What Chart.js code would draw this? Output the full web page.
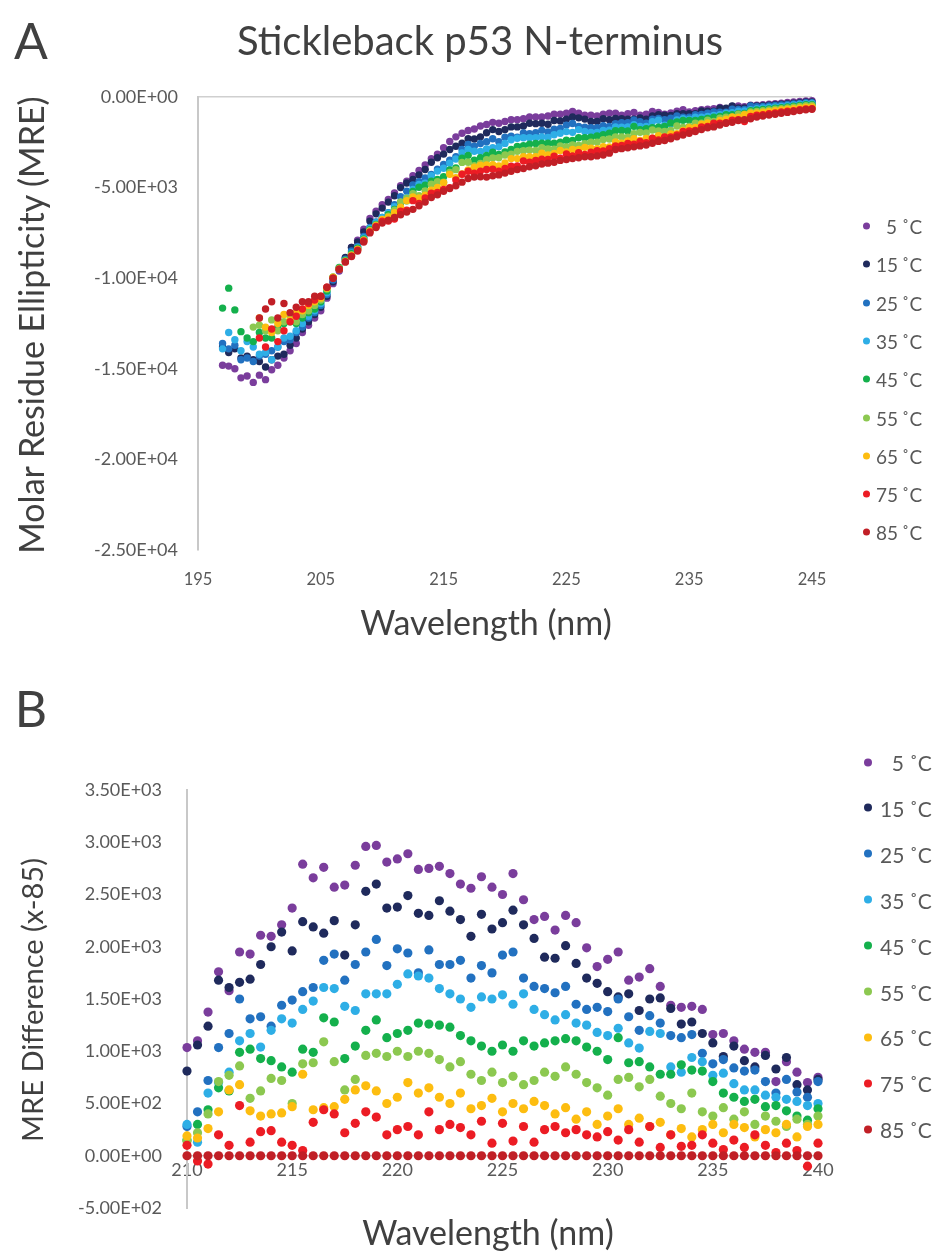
<!DOCTYPE html>
<html>
<head>
<meta charset="utf-8">
<script src="https://cdn.jsdelivr.net/npm/chart.js@4.4.0/dist/chart.umd.min.js"></script>
<style>
  body { margin: 0; background: #fff; }
  #page { position: relative; width: 936px; height: 1251px; font-family: Lato, "Open Sans", sans-serif; color: #404040; overflow: hidden; }
  canvas { position: absolute; left: 0; }
  .t { position: absolute; white-space: nowrap; line-height: 1; transform: translate(-50%, -50%); }
  .leg { position: absolute; display: flex; align-items: center; color: #595959; white-space: nowrap; line-height: 1; transform: translateY(-50%); }
  .dot { display: inline-block; border-radius: 50%; }
  .num { display: inline-block; text-align: right; }
</style>
</head>
<body>
<div id="page">
  <canvas id="chartA" width="936" height="650" style="top:0"></canvas>
  <canvas id="chartB" width="936" height="601" style="top:650px"></canvas>
  <div class="t" style="left:31px;top:40px;font-size:50px">A</div>
  <div class="t" style="left:480px;top:40px;font-size:40px">Stickleback p53 N-terminus</div>
  <div class="t" style="left:31px;top:325px;font-size:34px;transform:translate(-50%,-50%) rotate(-90deg)">Molar Residue Ellipticity (MRE)</div>
  <div class="t" style="left:486px;top:622px;font-size:34px">Wavelength (nm)</div>
  <div class="t" style="left:31px;top:708px;font-size:50px">B</div>
  <div class="t" style="left:31px;top:1000px;font-size:29px;transform:translate(-50%,-50%) rotate(-90deg)">MRE Difference (x-85)</div>
  <div class="t" style="left:488px;top:1232px;font-size:34px">Wavelength (nm)</div>
  <div id="legendA"></div>
  <div id="legendB"></div>
</div>
<script>
// temperatures and colours
const temps = [5, 15, 25, 35, 45, 55, 65, 75, 85]
const colors = ["#7a3d9c", "#1f2a5c", "#2271c0", "#2eaee6", "#14b04c", "#8cc850", "#fdbd10", "#ec1c24", "#c11f26"]

// tick values
const xTicksA = [195, 205, 215, 225, 235, 245]
const yTicksA = [0, -5000, -10000, -15000, -20000, -25000]
const xTicksB = [210, 215, 220, 225, 230, 235, 240]
const yTicksB = [3500, 3000, 2500, 2000, 1500, 1000, 500, 0, -500]

// panel A: wavelength (nm)
const wavelengthA = [197,197.5,198,198.5,199,199.5,200,200.5,201,201.5,202,202.5,203,203.5,204,204.5,205,205.5,206,206.5,207,207.5,208,
  208.5,209,209.5,210,210.5,211,211.5,212,212.5,213,213.5,214,214.5,215,215.5,216,216.5,217,217.5,218,218.5,219,219.5,220,
  220.5,221,221.5,222,222.5,223,223.5,224,224.5,225,225.5,226,226.5,227,227.5,228,228.5,229,229.5,230,230.5,231,231.5,232,
  232.5,233,233.5,234,234.5,235,235.5,236,236.5,237,237.5,238,238.5,239,239.5,240,240.5,241,241.5,242,242.5,243,243.5,244,244.5,245]

// panel A: molar residue ellipticity per temperature
const mre5 = [-14800,-14850,-15000,-15500,-15400,-15750,-15350,-15600,-15050,-14800,-14400,-14000,-13600,-13000,-12600,-12200,-11800,-11100,-10300,-9600,-8900,-8300,-7900,
  -7300,-6700,-6300,-5950,-5650,-5300,-4900,-4650,-4350,-4050,-3750,-3400,-3150,-2800,-2450,-2200,-2000,-1850,-1770,-1600,-1520,-1400,-1450,-1350,
  -1250,-1250,-1200,-1100,-1100,-1100,-1050,-950,-950,-900,-800,-900,-1000,-1000,-1050,-950,-900,-900,-1000,-920,-850,-1000,-950,-800,
  -850,-950,-880,-780,-700,-820,-750,-700,-680,-650,-570,-670,-520,-500,-530,-450,-450,-430,-400,-370,-340,-300,-280,-250,-220,-210]
const mre15 = [-13800,-14100,-13900,-14400,-14300,-14500,-14600,-14900,-14500,-14300,-14200,-13700,-13300,-12800,-12400,-12000,-11600,-11000,-10200,-9500,-8850,-8300,-8000,
  -7450,-6850,-6450,-6130,-5800,-5450,-5000,-4750,-4550,-4300,-4000,-3600,-3350,-3150,-2900,-2720,-2550,-2300,-2320,-2200,-1970,-1800,-1900,-1800,
  -1650,-1650,-1600,-1450,-1470,-1450,-1500,-1300,-1320,-1220,-1100,-1150,-1220,-1350,-1350,-1200,-1250,-1180,-1200,-1220,-1220,-1160,-1230,-1050,
  -970,-1000,-1020,-920,-920,-920,-920,-770,-780,-780,-620,-620,-500,-600,-600,-480,-500,-480,-450,-430,-400,-370,-340,-310,-280,-280]
const mre25 = [-13600,-13900,-13700,-14500,-14400,-14600,-14300,-14200,-14000,-13800,-13500,-13400,-13000,-12700,-12200,-11900,-11500,-10900,-10100,-9500,-8950,-8500,-8250,
  -7700,-7200,-6900,-6650,-6380,-5950,-5500,-5200,-4850,-4680,-4470,-4280,-3980,-3720,-3490,-3290,-2900,-2620,-2720,-2570,-2470,-2300,-2470,-2220,
  -2160,-2220,-1990,-2020,-1970,-1840,-1930,-1780,-1740,-1550,-1460,-1630,-1660,-1700,-1690,-1580,-1620,-1480,-1420,-1420,-1270,-1370,-1450,-1220,
  -1180,-1250,-1170,-1040,-1120,-1120,-980,-960,-890,-830,-840,-840,-680,-690,-690,-500,-540,-520,-500,-470,-440,-410,-380,-350,-320,-320]
const mre35 = [-13900,-13000,-13400,-14000,-13500,-13800,-14200,-14100,-14500,-13800,-13300,-13200,-12900,-12500,-12100,-11800,-11400,-10800,-10000,-9450,-9000,-8600,-8300,
  -7780,-7250,-6930,-6650,-6400,-6050,-5800,-5550,-5100,-4830,-4760,-4350,-4090,-3930,-3650,-3420,-3090,-2900,-2990,-3010,-2870,-2800,-2750,-2560,
  -2360,-2280,-2250,-2250,-2250,-2200,-2230,-2080,-2000,-1910,-1950,-1800,-1900,-1950,-1950,-1850,-1830,-1650,-1670,-1650,-1530,-1620,-1620,-1360,
  -1280,-1550,-1500,-1260,-1200,-1230,-1110,-1110,-1070,-1020,-970,-890,-860,-780,-770,-700,-640,-610,-580,-550,-520,-480,-440,-400,-370,-360]
const mre45 = [-11650,-10550,-11750,-12950,-13300,-13500,-13000,-13300,-13300,-12700,-12500,-12400,-12500,-12200,-11900,-11700,-11300,-10700,-9950,-9400,-9000,-8650,-8350,
  -7830,-7320,-7040,-6800,-6500,-6210,-5850,-5730,-5210,-4980,-4870,-4640,-4550,-4400,-4030,-3910,-3380,-3220,-3490,-3350,-3220,-3050,-3170,-3030,
  -2900,-2730,-2690,-2600,-2570,-2550,-2550,-2550,-2500,-2390,-2400,-2250,-2250,-2220,-2150,-2080,-2000,-1860,-1850,-1880,-1620,-1810,-1750,-1700,
  -1670,-1620,-1430,-1380,-1290,-1290,-1300,-1240,-1180,-1110,-1080,-970,-970,-920,-910,-750,-720,-690,-660,-620,-590,-550,-510,-470,-430,-420]
const mre55 = [null,null,null,null,null,-12700,-12600,-12900,-12300,-12900,-12400,-12100,-12400,-12000,-11800,-11500,-11200,-10600,-9950,-9450,-9050,-8700,-8400,
  -7880,-7370,-7060,-6810,-6580,-6250,-5790,-5580,-5340,-5450,-5180,-4810,-4680,-4700,-4170,-4010,-3610,-3600,-3790,-3670,-3460,-3370,-3350,-3200,
  -3150,-3000,-2970,-2930,-2950,-2800,-2870,-2880,-2700,-2750,-2640,-2670,-2580,-2500,-2490,-2350,-2320,-2200,-2200,-2220,-2020,-1950,-1990,-1820,
  -1880,-1900,-1850,-1600,-1680,-1620,-1440,-1450,-1280,-1350,-1170,-1120,-1120,-950,-950,-820,-800,-760,-720,-680,-640,-600,-560,-520,-480,-470]
const mre65 = [null,null,null,null,null,null,-12200,-12700,-13000,-12500,-12000,-12300,-11900,-11800,-11500,-11300,-11100,-10550,-9950,-9500,-9080,-8750,-8420,
  -7920,-7410,-7100,-6760,-6630,-6390,-6080,-5720,-5520,-5570,-5420,-5150,-4990,-4730,-4270,-4460,-4240,-4030,-3880,-3770,-3750,-3730,-3800,-3640,
  -3400,-3400,-3300,-3290,-3300,-3100,-3200,-3120,-2950,-3030,-2900,-2900,-2780,-2820,-2850,-2740,-2750,-2480,-2550,-2420,-2300,-2400,-2290,-2270,
  -2130,-2200,-2040,-2020,-1850,-1700,-1680,-1500,-1430,-1470,-1300,-1230,-1100,-1120,-970,-900,-880,-840,-800,-760,-720,-680,-640,-600,-560,-550]
const mre75 = [null,null,null,null,null,null,-13300,-13800,-12800,-13500,-12900,-12400,-12100,-11700,-11400,-11200,-11000,-10500,-10000,-9500,-9100,-8780,-8450,
  -7950,-7450,-7140,-6850,-6850,-6730,-6300,-6250,-5720,-5870,-5570,-5310,-5270,-5100,-5000,-4580,-4260,-4100,-4200,-4090,-4000,-3980,-4100,-3950,
  -3820,-3800,-3530,-3600,-3500,-3430,-3450,-3270,-3380,-3140,-3260,-3070,-3170,-3050,-2970,-2980,-2850,-2700,-2670,-2570,-2600,-2450,-2520,-2270,
  -2370,-2200,-2210,-2100,-1900,-1880,-1840,-1650,-1620,-1450,-1450,-1420,-1280,-1250,-1350,-1080,-1010,-970,-920,-880,-830,-790,-750,-700,-660,-640]
const mre85 = [null,null,null,null,null,null,-12200,-11700,-11300,-12200,-11400,-11900,-11600,-11300,-11300,-11000,-11000,-10500,-10000,-9500,-9100,-8800,-8500,
  -8000,-7500,-7200,-6950,-6800,-6650,-6500,-6350,-6200,-6000,-5800,-5550,-5400,-5200,-5050,-4900,-4700,-4500,-4420,-4400,-4420,-4350,-4300,-4200,
  -4100,-4000,-3950,-3850,-3800,-3700,-3650,-3600,-3500,-3450,-3400,-3350,-3300,-3300,-3250,-3200,-3100,-2900,-2850,-2800,-2750,-2700,-2650,-2550,
  -2450,-2400,-2300,-2200,-2100,-2000,-1900,-1800,-1700,-1650,-1550,-1450,-1400,-1300,-1250,-1200,-1100,-1050,-1000,-950,-900,-850,-800,-750,-700,-680]

// panel B: wavelength (nm)
const wavelengthB = [210,210.5,211,211.5,212,212.5,213,213.5,214,214.5,215,215.5,216,216.5,217,217.5,218,218.5,219,219.5,220,
  220.5,221,221.5,222,222.5,223,223.5,224,224.5,225,225.5,226,226.5,227,227.5,228,228.5,229,229.5,230,
  230.5,231,231.5,232,232.5,233,233.5,234,234.5,235,235.5,236,236.5,237,237.5,238,238.5,239,239.5,240]

// panel B: MRE difference from 85 C
const diff5 = [1035,1100,1375,1760,1580,1950,1930,2110,2100,2210,2370,2790,2660,2760,2570,2590,2780,2960,2970,2810,2840,
  2890,2740,2750,2770,2700,2600,2560,2670,2570,2500,2700,2450,2260,2290,2160,2300,2230,1990,1810,1880,
  1950,1680,1710,1790,1620,1440,1420,1430,1400,1160,1170,1100,1020,990,990,710,900,800,700,750]
const diff15 = [810,1060,1240,1680,1610,1660,1690,1830,2000,2140,1960,2240,2190,2130,2250,1920,2210,2530,2600,2370,2380,
  2490,2320,2300,2440,2340,2260,2100,2310,2170,2230,2350,2210,2080,1900,1890,2010,1840,1700,1650,1570,
  1520,1550,1390,1500,1510,1410,1260,1280,1170,1080,950,1050,910,850,960,830,940,680,630,730]
const diff25 = [280,420,720,1035,1170,1500,1310,1330,1240,1440,1490,1570,1610,1870,1930,1680,1830,1950,2070,1820,1980,
  1940,1750,1970,1830,1830,1870,1700,1820,1750,1920,1950,1700,1620,1600,1560,1620,1450,1400,1420,1380,
  1500,1330,1200,1340,1270,1150,1130,1160,980,880,920,840,810,820,710,600,730,610,560,710]
const diff35 = [300,130,600,700,800,1100,1170,1040,1200,1310,1270,1400,1480,1610,1600,1430,1390,1550,1550,1550,1640,
  1740,1720,1700,1600,1550,1500,1420,1520,1500,1540,1450,1550,1400,1350,1300,1350,1270,1250,1180,1150,
  1220,1080,1030,1190,1170,850,800,940,900,770,790,690,630,630,580,560,540,520,480,500]
const diff45 = [150,300,440,650,620,990,1020,930,910,850,800,1020,990,1320,1280,930,1050,1200,1300,1130,1170,
  1200,1270,1260,1250,1230,1150,1100,1050,1000,1060,1000,1100,1050,1080,1100,1120,1100,1040,1000,920,
  1130,890,900,850,780,780,870,820,810,710,600,560,520,540,470,480,430,380,340,450]
const diff55 = [140,220,400,710,770,860,550,620,740,720,500,880,890,1090,900,630,730,960,980,950,1000,
  950,1000,980,920,850,900,780,720,800,700,760,680,720,800,760,850,780,700,650,580,
  730,750,660,730,570,500,450,600,420,380,460,350,420,300,380,330,280,350,300,380]
const diff65 = [190,170,260,420,630,680,430,380,400,410,470,780,440,460,470,540,630,670,620,500,560,
  700,600,650,560,500,600,450,480,550,420,500,450,520,480,400,460,350,420,300,380,
  450,300,360,280,320,200,260,180,250,300,220,300,270,180,250,220,300,180,280,300]
const diff75 = [100,-50,-80,200,100,480,130,230,240,130,100,50,320,440,400,220,310,420,370,200,250,
  280,200,420,250,300,270,200,330,120,310,140,280,130,250,280,220,250,200,180,230,
  150,250,130,280,80,200,90,100,200,120,60,150,80,200,100,30,120,50,-100,120]
const diff85 = [0,0,0,0,0,0,0,0,0,0,0,0,0,0,0,0,0,0,0,0,0,
  0,0,0,0,0,0,0,0,0,0,0,0,0,0,0,0,0,0,0,0,
  0,0,0,0,0,0,0,0,0,0,0,0,0,0,0,0,0,0,0,0]

const seriesA = [mre5, mre15, mre25, mre35, mre45, mre55, mre65, mre75, mre85]
const seriesB = [diff5, diff15, diff25, diff35, diff45, diff55, diff65, diff75, diff85]

const sci = (v) => {
  const [m, e] = Number(v).toExponential(2).split("e")
  const n = parseInt(e, 10)
  return m + "E" + (n < 0 ? "-" : "+") + String(Math.abs(n)).padStart(2, "0")
}

const toPoints = (xs, ys) => xs.map((x, i) => ({ x: x, y: ys[i] })).filter(p => p.y !== null)

const buildDatasets = (xs, series, radius) => series.map((ys, i) => ({
  label: temps[i] + " ˚C",
  data: toPoints(xs, ys),
  showLine: false,
  pointRadius: radius,
  pointHoverRadius: radius,
  pointBorderWidth: 0,
  pointBackgroundColor: colors[i],
  backgroundColor: colors[i],
  borderColor: colors[i],
  clip: false,
  order: -i
}))

const tickFont = (size) => ({ family: "Lato", size: size })

new Chart(document.getElementById("chartA"), {
  type: "scatter",
  data: { datasets: buildDatasets(wavelengthA, seriesA, 3.7) },
  options: {
    responsive: false,
    animation: false,
    devicePixelRatio: 1,
    layout: { padding: { top: 97, right: 124, left: 0, bottom: 0 } },
    plugins: { legend: { display: false }, tooltip: { enabled: false } },
    scales: {
      x: {
        type: "linear", min: 195, max: 245,
        afterBuildTicks: (s) => { s.ticks = xTicksA.map(v => ({ value: v })) },
        afterFit: (s) => { s.height = 100 },
        grid: { display: false, drawTicks: false },
        border: { display: false },
        ticks: { padding: 20, color: "#595959", font: tickFont(16.5), maxRotation: 0, autoSkip: false }
      },
      y: {
        min: -25000, max: 0,
        afterBuildTicks: (s) => { s.ticks = yTicksA.map(v => ({ value: v })) },
        afterFit: (s) => { s.width = 198 },
        grid: { drawTicks: false, lineWidth: 1.5, color: (c) => c.tick && c.tick.value === 0 ? "#cfcfcf" : "rgba(0,0,0,0)" },
        border: { color: "#c8c8c8", width: 2 },
        ticks: { padding: 20, color: "#595959", font: tickFont(18), callback: (v) => sci(v) }
      }
    }
  }
})

new Chart(document.getElementById("chartB"), {
  type: "scatter",
  data: { datasets: buildDatasets(wavelengthB, seriesB, 4.6) },
  options: {
    responsive: false,
    animation: false,
    devicePixelRatio: 1,
    layout: { padding: { top: 140, right: 118, left: 0, bottom: 43 } },
    plugins: { legend: { display: false }, tooltip: { enabled: false } },
    scales: {
      x: {
        type: "linear", min: 210, max: 240, position: { y: 0 },
        afterBuildTicks: (s) => { s.ticks = xTicksB.map(v => ({ value: v })) },
        grid: { display: false, drawTicks: false },
        border: { color: "#c8c8c8", width: 1.5 },
        ticks: { padding: 4, color: "#595959", font: tickFont(18), maxRotation: 0, autoSkip: false }
      },
      y: {
        min: -500, max: 3500,
        afterBuildTicks: (s) => { s.ticks = yTicksB.map(v => ({ value: v })) },
        afterFit: (s) => { s.width = 187 },
        grid: { display: false, drawTicks: false },
        border: { color: "#c8c8c8", width: 2 },
        ticks: { padding: 25, color: "#595959", font: tickFont(18), callback: (v) => sci(v) }
      }
    }
  }
})

// legends on the right
const buildLegend = (id, top, step, dotX, textX, dotSize, fontSize, numWidth) => {
  const box = document.getElementById(id)
  temps.forEach((t, i) => {
    const row = document.createElement("div")
    row.className = "leg"
    row.style.left = (dotX - dotSize / 2) + "px"
    row.style.top = (top + i * step) + "px"
    row.style.fontSize = fontSize + "px"
    const dot = document.createElement("span")
    dot.className = "dot"
    dot.style.width = dotSize + "px"
    dot.style.height = dotSize + "px"
    dot.style.background = colors[i]
    dot.style.marginRight = (textX - dotX - dotSize / 2) + "px"
    const num = document.createElement("span")
    num.className = "num"
    num.style.width = numWidth + "px"
    num.textContent = t
    const unit = document.createElement("span")
    unit.textContent = "\u00A0˚C"
    row.appendChild(dot)
    row.appendChild(num)
    row.appendChild(unit)
    box.appendChild(row)
  })
}
buildLegend("legendA", 226, 38.3, 866, 876, 7, 19, 21)
buildLegend("legendB", 762, 45.9, 868, 880, 8, 21, 24)
</script>
</body>
</html>
